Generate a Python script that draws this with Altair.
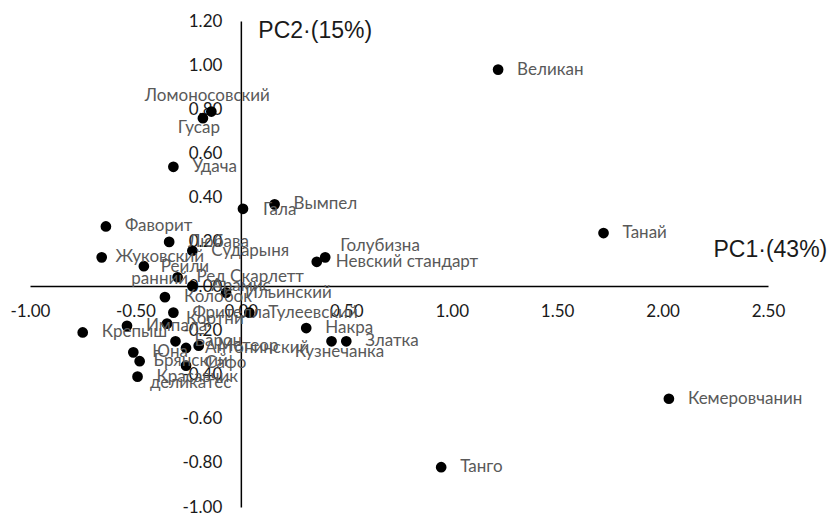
import altair as alt
import pandas as pd

# PCA scores of potato varieties
varieties = [
    "Великан", "Танай", "Кемеровчанин", "Танго", "Ломоносовский", "Гусар",
    "Удача", "Гала", "Вымпел", "Голубизна", "Невский стандарт", "Фаворит",
    "Любава", "Сударыня", "Жуковский ранний", "Рейли", "Ред Скарлетт",
    "Арамис", "Ильинский", "Колобок", "Фрителла", "Тулеевский", "Кортни",
    "Импала", "Крепыш", "Накра", "Барон", "Метеор", "Антонинский", "Златка",
    "Кузнечанка", "Юна", "Брянский деликатес", "Сафо", "Красавчик",
]
pc1 = [
    1.22, 1.72, 2.03, 0.95, -0.14, -0.18,
    -0.32, 0.01, 0.16, 0.40, 0.36, -0.64,
    -0.34, -0.23, -0.66, -0.46, -0.30,
    -0.23, -0.07, -0.36, -0.32, 0.04, -0.35,
    -0.54, -0.75, 0.31, -0.31, -0.20, -0.26, 0.50,
    0.43, -0.51, -0.48, -0.26, -0.49,
]
pc2 = [
    0.98, 0.24, -0.51, -0.82, 0.79, 0.76,
    0.54, 0.35, 0.37, 0.13, 0.11, 0.27,
    0.20, 0.16, 0.13, 0.09, 0.04,
    0.00, -0.03, -0.05, -0.12, -0.12, -0.17,
    -0.18, -0.21, -0.19, -0.25, -0.27, -0.28, -0.25,
    -0.25, -0.30, -0.34, -0.36, -0.41,
]

x_ticks = [-1.0, -0.5, 0.0, 0.5, 1.0, 1.5, 2.0, 2.5]
y_ticks = [-1.0, -0.8, -0.6, -0.4, -0.2, 0.0, 0.2, 0.4, 0.6, 0.8, 1.0, 1.2]
x_title = "PC1·(43%)"
y_title = "PC2·(15%)"

# label placement: (align, dx, dy) in pixels relative to the point
DEFAULT_PLACE = ("left", 19, 0)
label_place = {
    "Ломоносовский": ("center", -4, -16),
    "Гусар": ("center", -4, 10),
    "Голубизна": ("left", 15, -11),
    "Гала": ("left", 20, 1),
    "Рейли": ("left", 17, 1),
    "Кортни": ("left", 19, -5),
    "Сафо": ("left", 19, -3),
    "Кузнечанка": ("center", 8, 11),
    "Жуковский ранний": ("center", 58, 0),
    "Брянский деликатес": ("center", 51, 0),
}
wrapped = {"Жуковский ранний", "Брянский деликатес"}

W, H = 738, 486
X_DOM = [-1.0, 2.5]
Y_DOM = [-1.0, 1.2]

rows = []
for name, a, b in zip(varieties, pc1, pc2):
    align, dx, dy = label_place.get(name, DEFAULT_PLACE)
    rows.append({
        "name": name,
        "label": name.replace(" ", "\n") if name in wrapped else name,
        "pc1": a,
        "pc2": b,
        "place": f"{align}|{dx}|{dy}",
    })
df = pd.DataFrame(rows)

# axes crossing at the origin
x_off = -H * (0 - Y_DOM[0]) / (Y_DOM[1] - Y_DOM[0])
y_off = -W * (0 - X_DOM[0]) / (X_DOM[1] - X_DOM[0])
label_expr = "(datum.value < 0 ? '-' : '') + format(abs(datum.value), '.2f')"

TICK_FONT = "Lato, 'Open Sans', sans-serif"
TITLE_FONT = "'Liberation Sans', Arial, sans-serif"

axis_common = dict(
    labelExpr=label_expr, grid=False, ticks=False, tickSize=0,
    labelBaseline="middle", labelFlush=False, labelOverlap=False,
    labelFont=TICK_FONT, labelFontSize=17, labelColor="#1a1a1a",
    domainColor="#000000", domainWidth=1.5, titleFont=TITLE_FONT,
    titleFontSize=23, titleFontWeight="normal", titleColor="#1a1a1a",
    titleAngle=0, titleAlign="left", titleBaseline="middle",
)

x_enc = alt.X(
    "pc1:Q",
    scale=alt.Scale(domain=X_DOM, nice=False, zero=False),
    axis=alt.Axis(values=x_ticks, offset=x_off, labelPadding=25,
                  title=x_title, titleX=683, titleY=-37, **axis_common),
)
y_enc = alt.Y(
    "pc2:Q",
    scale=alt.Scale(domain=Y_DOM, nice=False, zero=False),
    axis=alt.Axis(values=y_ticks, offset=y_off, labelPadding=19,
                  title=y_title, titleX=17, titleY=9, **axis_common),
)

base = alt.Chart(df)

points = base.mark_circle(size=115, color="#000000", opacity=1).encode(
    x=x_enc, y=y_enc
)

layers = [points]
for place in dict.fromkeys(df["place"]):
    align, dx, dy = place.split("|")
    layers.append(
        base.transform_filter(alt.datum.place == place)
        .mark_text(
            align=align, dx=int(dx), dy=int(dy), font=TICK_FONT,
            fontSize=17, color="#595959", baseline="middle",
            lineBreak="\n", lineHeight=22,
        )
        .encode(x=x_enc, y=y_enc, text="label:N")
    )

chart = (
    alt.layer(*layers)
    .properties(
        width=W, height=H,
        autosize=alt.AutoSizeParams(type="none"),
        padding={"left": 30, "top": 21, "right": 60, "bottom": 6},
        background="#ffffff",
    )
    .configure_view(stroke=None)
)

chart.save("out.html", embed_options={"renderer": "svg", "actions": False})
